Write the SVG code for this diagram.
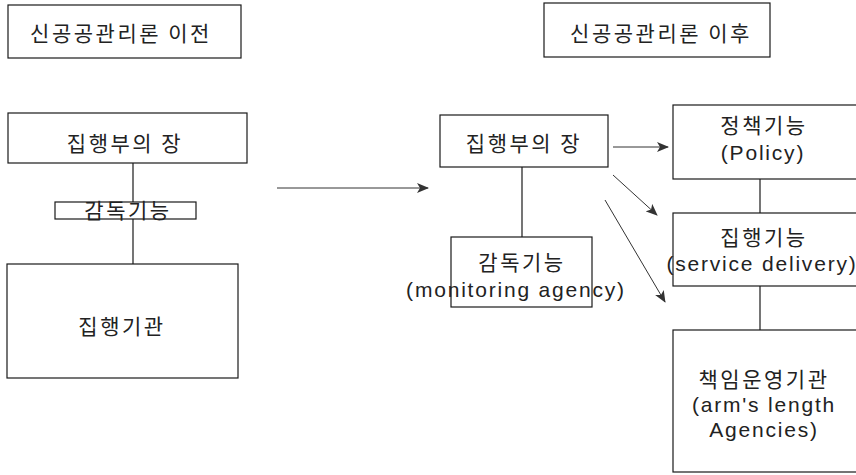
<svg xmlns="http://www.w3.org/2000/svg" width="856" height="475" viewBox="0 0 856 475">
  <style>
    .box { fill: #ffffff; stroke: #1a1a1a; stroke-width: 1.2; }
    .ko { font-family: "Noto Sans CJK KR", "Liberation Sans", sans-serif; font-size: 21px; fill: #222; text-anchor: middle; letter-spacing: 2.5px; }
    .en { font-family: "Liberation Sans", "Noto Sans CJK KR", sans-serif; font-size: 21px; fill: #222; text-anchor: middle; letter-spacing: 1.8px; }
    .link { stroke: #1a1a1a; stroke-width: 1.2; fill: none; }
    .arrow { stroke: #333; stroke-width: 1; fill: none; marker-end: url(#head); }
  </style>
  <defs>
    <marker id="head" viewBox="0 0 12 10" refX="11" refY="5" markerWidth="12" markerHeight="10" markerUnits="userSpaceOnUse" orient="auto">
      <path d="M0,0 L12,5 L0,10 L3,5 Z" fill="#333"/>
    </marker>
  </defs>
  <rect width="856" height="475" fill="#ffffff"/>

  <!-- section titles -->
  <g id="title-before">
    <rect class="box" x="8" y="5" width="233" height="53"/>
    <text class="ko" x="121" y="41" font-size="22">신공공관리론 이전</text>
  </g>
  <g id="title-after">
    <rect class="box" x="544" y="3" width="226" height="54"/>
    <text class="ko" x="661" y="41" font-size="22">신공공관리론 이후</text>
  </g>

  <!-- connectors -->
  <g id="connectors">
    <line class="link" x1="133" y1="163" x2="133" y2="202"/>
    <line class="link" x1="133" y1="219" x2="133" y2="264"/>
    <line class="arrow" x1="277" y1="188" x2="428" y2="188"/>
    <line class="link" x1="522" y1="167" x2="522" y2="237"/>
    <line class="arrow" x1="613" y1="147" x2="668" y2="147"/>
    <line class="arrow" x1="613" y1="175" x2="657" y2="215"/>
    <line class="arrow" x1="605" y1="200" x2="665" y2="302"/>
    <line class="link" x1="760" y1="179" x2="760" y2="213"/>
    <line class="link" x1="760" y1="286" x2="760" y2="330"/>
  </g>

  <!-- before: hierarchy -->
  <g id="head-before">
    <rect class="box" x="8" y="113" width="239" height="50"/>
    <text class="ko" x="125" y="151">집행부의 장</text>
  </g>
  <g id="monitor-before">
    <rect class="box" x="55" y="202" width="141" height="17"/>
    <text class="ko" x="128" y="218" font-size="20">감독기능</text>
  </g>
  <g id="agency-before">
    <rect class="box" x="7" y="264" width="231" height="114"/>
    <text class="ko" x="122" y="334">집행기관</text>
  </g>

  <!-- after: separated functions -->
  <g id="head-after">
    <rect class="box" x="440" y="115" width="168" height="52"/>
    <text class="ko" x="524" y="151">집행부의 장</text>
  </g>
  <g id="monitor-after">
    <rect class="box" x="451" y="237" width="141" height="70"/>
    <text class="ko" x="522" y="270">감독기능</text>
    <text class="en" x="516" y="297">(monitoring agency)</text>
  </g>
  <g id="policy">
    <rect class="box" x="673" y="105" width="190" height="74"/>
    <text class="ko" x="764" y="133">정책기능</text>
    <text class="en" x="763" y="160">(Policy)</text>
  </g>
  <g id="delivery">
    <rect class="box" x="673" y="213" width="190" height="73"/>
    <text class="ko" x="764" y="245">집행기능</text>
    <text class="en" x="762" y="271" font-size="20" letter-spacing="0.8">(service delivery)</text>
  </g>
  <g id="arms-length">
    <rect class="box" x="673" y="330" width="190" height="142"/>
    <text class="ko" x="764" y="387">책임운영기관</text>
    <text class="en" x="764" y="412">(arm's length</text>
    <text class="en" x="764" y="437">Agencies)</text>
  </g>
</svg>
